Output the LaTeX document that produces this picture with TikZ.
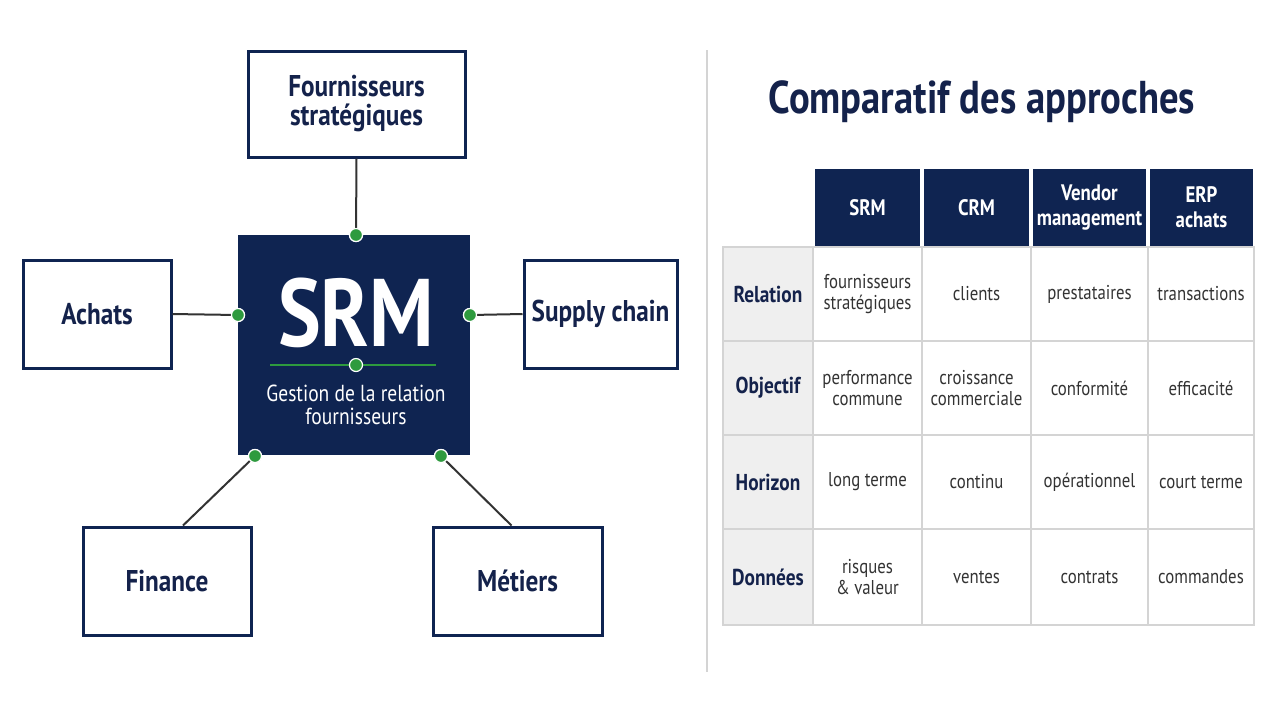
\documentclass[tikz,border=0pt]{standalone}
\usepackage{fontspec}
\setmainfont{PT Sans}[FakeStretch=0.84]
\usepackage{tikz}
\usetikzlibrary{positioning,calc}
\definecolor{srmnavy}{HTML}{0F2451}
\definecolor{srmink}{HTML}{14224B}
\definecolor{srmgreen}{HTML}{2E9A3E}
\definecolor{srmgrid}{HTML}{D4D4D4}
\definecolor{srmpale}{HTML}{EFEFEF}
\definecolor{srmline}{HTML}{333333}

\begin{document}
\begin{tikzpicture}[
  x=0.5pt, y=-0.5pt,
  font=\fontsize{11}{13}\selectfont,
  actor/.style={draw=srmnavy, line width=1.5pt, fill=white, text=srmink, align=center,
    font=\fontsize{15}{14.5}\selectfont\bfseries, inner sep=0pt},
  core/.style={fill=srmnavy, minimum width=116pt, minimum height=110pt, inner sep=0pt},
  link/.style={draw=srmline, line width=1pt},
  dot/.style={circle, fill=srmgreen, draw=white, line width=0.6pt, minimum size=6.5pt, inner sep=0pt},
  head/.style={fill=srmnavy, text=white, align=center, font=\fontsize{11.2}{12.5}\selectfont\bfseries,
    minimum height=38.5pt, inner sep=0pt},
  rowlab/.style={draw=srmgrid, line width=0.8pt, fill=srmpale, text=srmink, font=\fontsize{11.5}{14}\selectfont\bfseries,
    minimum width=45pt, minimum height=47pt, inner sep=0pt},
  cell/.style={draw=srmgrid, line width=0.8pt, fill=white, text=black!80, align=center,
    font=\fontsize{10}{10.8}\selectfont, minimum height=47pt, inner sep=0pt},
]
  \useasboundingbox[fill=white] (0,0) rectangle (1280,720);

  % left: SRM hub
  \node[core] (srm) at (354,345) {};
  \node[text=white, font=\fontsize{48}{48}\selectfont\bfseries] (srmtitle) at (356,313) {SRM};
  \node[text=white, align=center, font=\fontsize{11.6}{11.8}\selectfont] (srmsub) at (356,405) {Gestion de la relation\\fournisseurs};
  \coordinate (barl) at (270,365);
  \coordinate (barr) at (436,365);
  \draw[srmgreen, line width=1.2pt] (barl) -- (barr);
  \node[dot] (barmid) at (356,365) {};

  \node[actor, minimum width=108.5pt, minimum height=53pt] (fourn) at (356.5,104) {Fournisseurs\\stratégiques};
  \node[actor, minimum width=74pt, minimum height=54pt] (achats) at (97,314) {Achats};
  \node[actor, minimum width=76.5pt, minimum height=54pt] (supply) at (600.5,314) {Supply chain};
  \node[actor, minimum width=84pt, minimum height=54pt] (finance) at (167,581) {Finance};
  \node[actor, minimum width=84.5pt, minimum height=54pt] (metiers) at (517.5,581) {Métiers};

  \node[dot] (dtop) at (356,235) {};
  \node[dot] (dleft) at (238,315) {};
  \node[dot] (dright) at (470,315) {};
  \node[dot] (dbl) at (255,456) {};
  \node[dot] (dbr) at (441,456) {};

  \draw[link] (fourn.south) -- (dtop);
  \draw[link] (achats.east) -- (dleft);
  \draw[link] (supply.west) -- (dright);
  \draw[link] (dbl) -- ([xshift=8pt]finance.north);
  \draw[link] (dbr) -- ([xshift=-3pt]metiers.north);
  \node[dot] at (dtop) {};
  \node[dot] at (dleft) {};
  \node[dot] at (dright) {};
  \node[dot] at (dbl) {};
  \node[dot] at (dbr) {};

  % separator
  \coordinate (septop) at (707,50);
  \coordinate (sepbot) at (707,672);
  \draw[srmgrid, line width=0.8pt] (septop) -- (sepbot);

  % right: comparison table
  \node[text=srmink, font=\fontsize{23}{25}\selectfont\bfseries] (cmptitle) at (982,102) {Comparatif des approches};

  \node[head, minimum width=52.5pt] (hsrm) at (867.5,207.5) {SRM};
  \node[head, minimum width=52.5pt] (hcrm) at (976.5,207.5) {CRM};
  \node[head, minimum width=56.5pt] (hvendor) at (1089.5,207.5) {Vendor\\management};
  \node[head, minimum width=51.5pt] (herp) at (1201.5,207.5) {ERP\\achats};

  \node[rowlab] (rrel) at (768,294) {Relation};
  \node[rowlab] (robj) at (768,388) {Objectif};
  \node[rowlab] (rhor) at (768,482) {Horizon};
  \node[rowlab, minimum height=48pt] (rdon) at (768,577) {Données};

  \node[cell, minimum width=54.5pt] (c11) at (867.5,294) {fournisseurs\\stratégiques};
  \node[cell, minimum width=54.5pt] (c12) at (976.5,294) {clients};
  \node[cell, minimum width=58.5pt] (c13) at (1089.5,294) {prestataires};
  \node[cell, minimum width=53pt] (c14) at (1201,294) {transactions};

  \node[cell, minimum width=54.5pt] (c21) at (867.5,388) {performance\\commune};
  \node[cell, minimum width=54.5pt] (c22) at (976.5,388) {croissance\\commerciale};
  \node[cell, minimum width=58.5pt] (c23) at (1089.5,388) {conformité};
  \node[cell, minimum width=53pt] (c24) at (1201,388) {efficacité};

  \node[cell, minimum width=54.5pt] (c31) at (867.5,482) {long terme};
  \node[cell, minimum width=54.5pt] (c32) at (976.5,482) {continu};
  \node[cell, minimum width=58.5pt] (c33) at (1089.5,482) {opérationnel};
  \node[cell, minimum width=53pt] (c34) at (1201,482) {court terme};

  \node[cell, minimum width=54.5pt, minimum height=48pt] (c41) at (867.5,577) {risques\\\& valeur};
  \node[cell, minimum width=54.5pt, minimum height=48pt] (c42) at (976.5,577) {ventes};
  \node[cell, minimum width=58.5pt, minimum height=48pt] (c43) at (1089.5,577) {contrats};
  \node[cell, minimum width=53pt, minimum height=48pt] (c44) at (1201,577) {commandes};
\end{tikzpicture}
\end{document}
